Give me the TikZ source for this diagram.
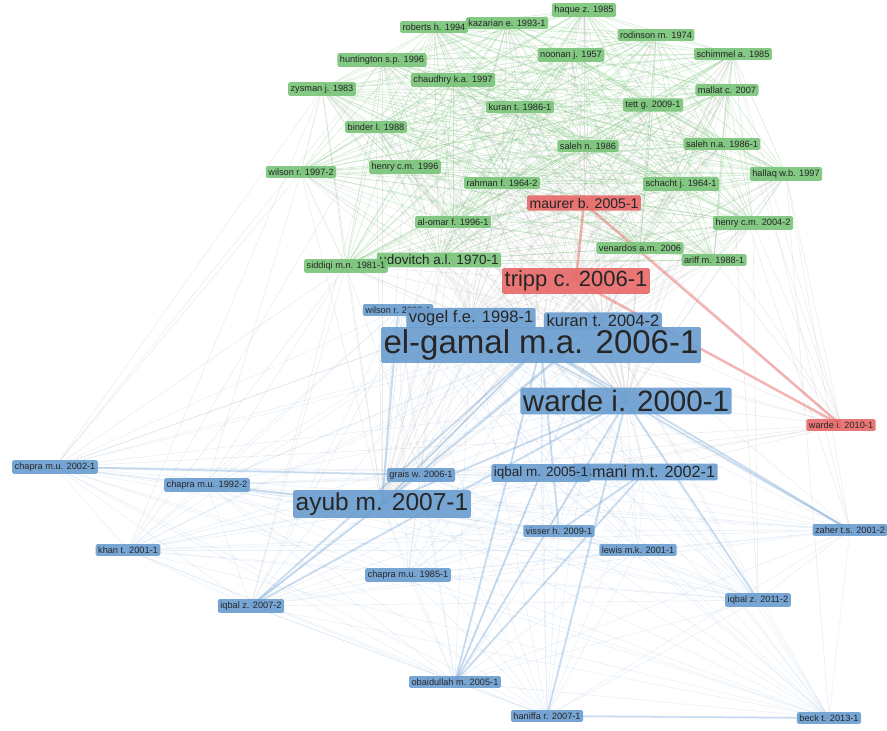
\documentclass[tikz,border=0pt]{standalone}
\usepackage{fontspec}
\setmainfont{Liberation Sans}
\usetikzlibrary{backgrounds}

\definecolor{clgreen}{RGB}{122,196,122}
\definecolor{clblue}{RGB}{108,158,208}
\definecolor{clred}{RGB}{232,106,106}
\definecolor{clgray}{RGB}{160,160,160}

\tikzset{
  item/.style={rounded corners=1.5pt, inner sep=2.5pt, text=black!85,
    fill opacity=0.92, text opacity=1, font=\fontsize{9.2}{9.2}\selectfont},
  grn/.style={item, fill=clgreen},
  blu/.style={item, fill=clblue},
  rd/.style={item, fill=clred},
  fs/.style={font=\fontsize{#1}{#1}\selectfont},
  gline/.style={clgreen, opacity=0.33, line width=0.6pt},
  xline/.style={clgray, opacity=0.2, line width=0.6pt},
  bline/.style={clblue, opacity=0.15, line width=0.6pt},
  bthick/.style={clblue, opacity=0.3, line width=2pt},
  rline/.style={clred, opacity=0.5, line width=2.5pt}
}

\def\greens{haque,roberts,kazarian,rodinson,huntington,noonan,schimmel,chaudhry,zysman,mallat,kuranA,tett,binder,salehA,salehB,wilsonA,henryA,hallaq,rahman,schacht,alomar,henryB,venardos,udovitch,siddiqi,ariff}
\def\blues{wilsonB,vogel,kuranB,elgamal,wardeA,chapraA,chapraB,grais,iqbalM,usmani,ayub,visser,zaher,khan,lewis,chapraC,iqbalA,iqbalB,obaid,haniffa,beck}

\begin{document}
\begin{tikzpicture}[x=1pt, y=-1pt]
\useasboundingbox (0,0) rectangle (887,731);

% cluster 1 (green)
\node[grn] (haque) at (584,10) {haque z. 1985};
\node[grn] (roberts) at (434,27) {roberts h. 1994};
\node[grn] (kazarian) at (507,23) {kazarian e. 1993-1};
\node[grn] (rodinson) at (656,35) {rodinson m. 1974};
\node[grn] (huntington) at (382,60) {huntington s.p. 1996};
\node[grn] (noonan) at (571,55) {noonan j. 1957};
\node[grn] (schimmel) at (733,54) {schimmel a. 1985};
\node[grn] (chaudhry) at (453,80) {chaudhry k.a. 1997};
\node[grn] (zysman) at (322,89) {zysman j. 1983};
\node[grn] (mallat) at (727,90) {mallat c. 2007};
\node[grn] (kuranA) at (520,107) {kuran t. 1986-1};
\node[grn] (tett) at (653,105) {tett g. 2009-1};
\node[grn] (binder) at (376,127) {binder l. 1988};
\node[grn] (salehA) at (588,146) {saleh n. 1986};
\node[grn] (salehB) at (722,144) {saleh n.a. 1986-1};
\node[grn] (wilsonA) at (301,172) {wilson r. 1997-2};
\node[grn] (henryA) at (405,167) {henry c.m. 1996};
\node[grn] (hallaq) at (786,174) {hallaq w.b. 1997};
\node[grn] (rahman) at (502,183) {rahman f. 1964-2};
\node[grn] (schacht) at (681,184) {schacht j. 1964-1};
\node[grn] (alomar) at (453,222) {al-omar f. 1996-1};
\node[grn] (henryB) at (753,223) {henry c.m. 2004-2};
\node[grn] (venardos) at (640,248) {venardos a.m. 2006};
\node[grn] (ariff) at (714,260) {ariff m. 1988-1};
\node[grn, fs=13.5] (udovitch) at (439,260) {udovitch a.l. 1970-1};
\node[grn] (siddiqi) at (346,266) {siddiqi m.n. 1981-1};

% cluster 3 (red)
\node[rd, fs=14] (maurer) at (584,203) {maurer b. 2005-1};
\node[rd, fs=22] (tripp) at (576,281) {tripp c. 2006-1};
\node[rd] (wardeB) at (841,425) {warde i. 2010-1};

% cluster 2 (blue)
\node[blu] (wilsonB) at (398,310) {wilson r. 2000-1};
\node[blu, fs=16.5] (vogel) at (471,318) {vogel f.e. 1998-1};
\node[blu, fs=16.5] (kuranB) at (603,321) {kuran t. 2004-2};
\node[blu, fs=33] (elgamal) at (541,345) {el-gamal m.a. 2006-1};
\node[blu, fs=29.5] (wardeA) at (626,401) {warde i. 2000-1};
\node[blu] (chapraA) at (55,467) {chapra m.u. 2002-1};
\node[blu] (chapraB) at (207,485) {chapra m.u. 1992-2};
\node[blu] (grais) at (421,475) {grais w. 2006-1};
\node[blu, fs=16.2] (usmani) at (645,472) {usmani m.t. 2002-1};
\node[blu, fs=13.5] (iqbalM) at (541,473) {iqbal m. 2005-1};
\node[blu, fs=24.5] (ayub) at (382,504) {ayub m. 2007-1};
\node[blu] (visser) at (559,531) {visser h. 2009-1};
\node[blu] (zaher) at (850,530) {zaher t.s. 2001-2};
\node[blu] (khan) at (128,550) {khan t. 2001-1};
\node[blu] (lewis) at (638,550) {lewis m.k. 2001-1};
\node[blu] (chapraC) at (408,575) {chapra m.u. 1985-1};
\node[blu] (iqbalA) at (251,606) {iqbal z. 2007-2};
\node[blu] (iqbalB) at (758,600) {iqbal z. 2011-2};
\node[blu] (obaid) at (455,682) {obaidullah m. 2005-1};
\node[blu] (haniffa) at (547,716) {haniffa r. 2007-1};
\node[blu] (beck) at (829,718) {beck t. 2013-1};

\begin{pgfonlayer}{background}
% links inside the green cluster
\foreach \a [count=\i] in \greens {
  \foreach \b [count=\j] in \greens {
    \ifnum\j>\i \draw[gline] (\a.center) -- (\b.center); \fi
  }
}
% links between clusters
\foreach \a in \greens {
  \foreach \b in {elgamal,wardeA,tripp,maurer,ayub,kuranB,vogel}
    \draw[xline] (\a.center) -- (\b.center);
}
\foreach \a/\b in {siddiqi/chapraA, siddiqi/khan, siddiqi/chapraB, siddiqi/iqbalA,
    zysman/chapraA, zysman/khan, wilsonA/chapraA, wilsonA/chapraB, binder/khan,
    binder/iqbalA, huntington/chapraA, alomar/chapraC, udovitch/iqbalA,
    udovitch/grais, siddiqi/grais, hallaq/zaher, hallaq/wardeB, schimmel/wardeB,
    schimmel/zaher, mallat/wardeB, salehB/zaher, henryB/wardeB, ariff/wardeB,
    henryB/iqbalB, mallat/iqbalB, hallaq/beck, venardos/wardeB, schacht/wardeB,
    wardeB/elgamal, wardeB/wardeA, wardeB/ayub, wardeB/vogel, wardeB/kuranB,
    wardeB/iqbalM, wardeB/usmani, wardeB/grais, wardeB/chapraA, tripp/chapraA,
    tripp/grais, maurer/usmani}
  \draw[xline] (\a.center) -- (\b.center);
% links inside the blue cluster
\foreach \a [count=\i] in \blues {
  \foreach \b [count=\j] in \blues {
    \ifnum\j>\i \draw[bline] (\a.center) -- (\b.center); \fi
  }
}
\foreach \a/\b in {elgamal/wardeA, elgamal/ayub, wardeA/ayub, ayub/iqbalA,
    elgamal/iqbalA, wardeA/iqbalA, wardeA/obaid, elgamal/obaid, usmani/obaid,
    iqbalM/obaid, wardeA/zaher, elgamal/zaher, wardeA/haniffa, ayub/chapraB,
    chapraA/grais, wardeA/iqbalB, usmani/visser, elgamal/visser, wilsonB/ayub,
    vogel/wardeA, kuranB/ayub, haniffa/beck}
  \draw[bthick] (\a.center) -- (\b.center);
% red links
\foreach \a/\b in {maurer/tripp, maurer/wardeB, tripp/wardeB}
  \draw[rline] (\a.center) -- (\b.center);
\end{pgfonlayer}
\end{tikzpicture}
\end{document}
